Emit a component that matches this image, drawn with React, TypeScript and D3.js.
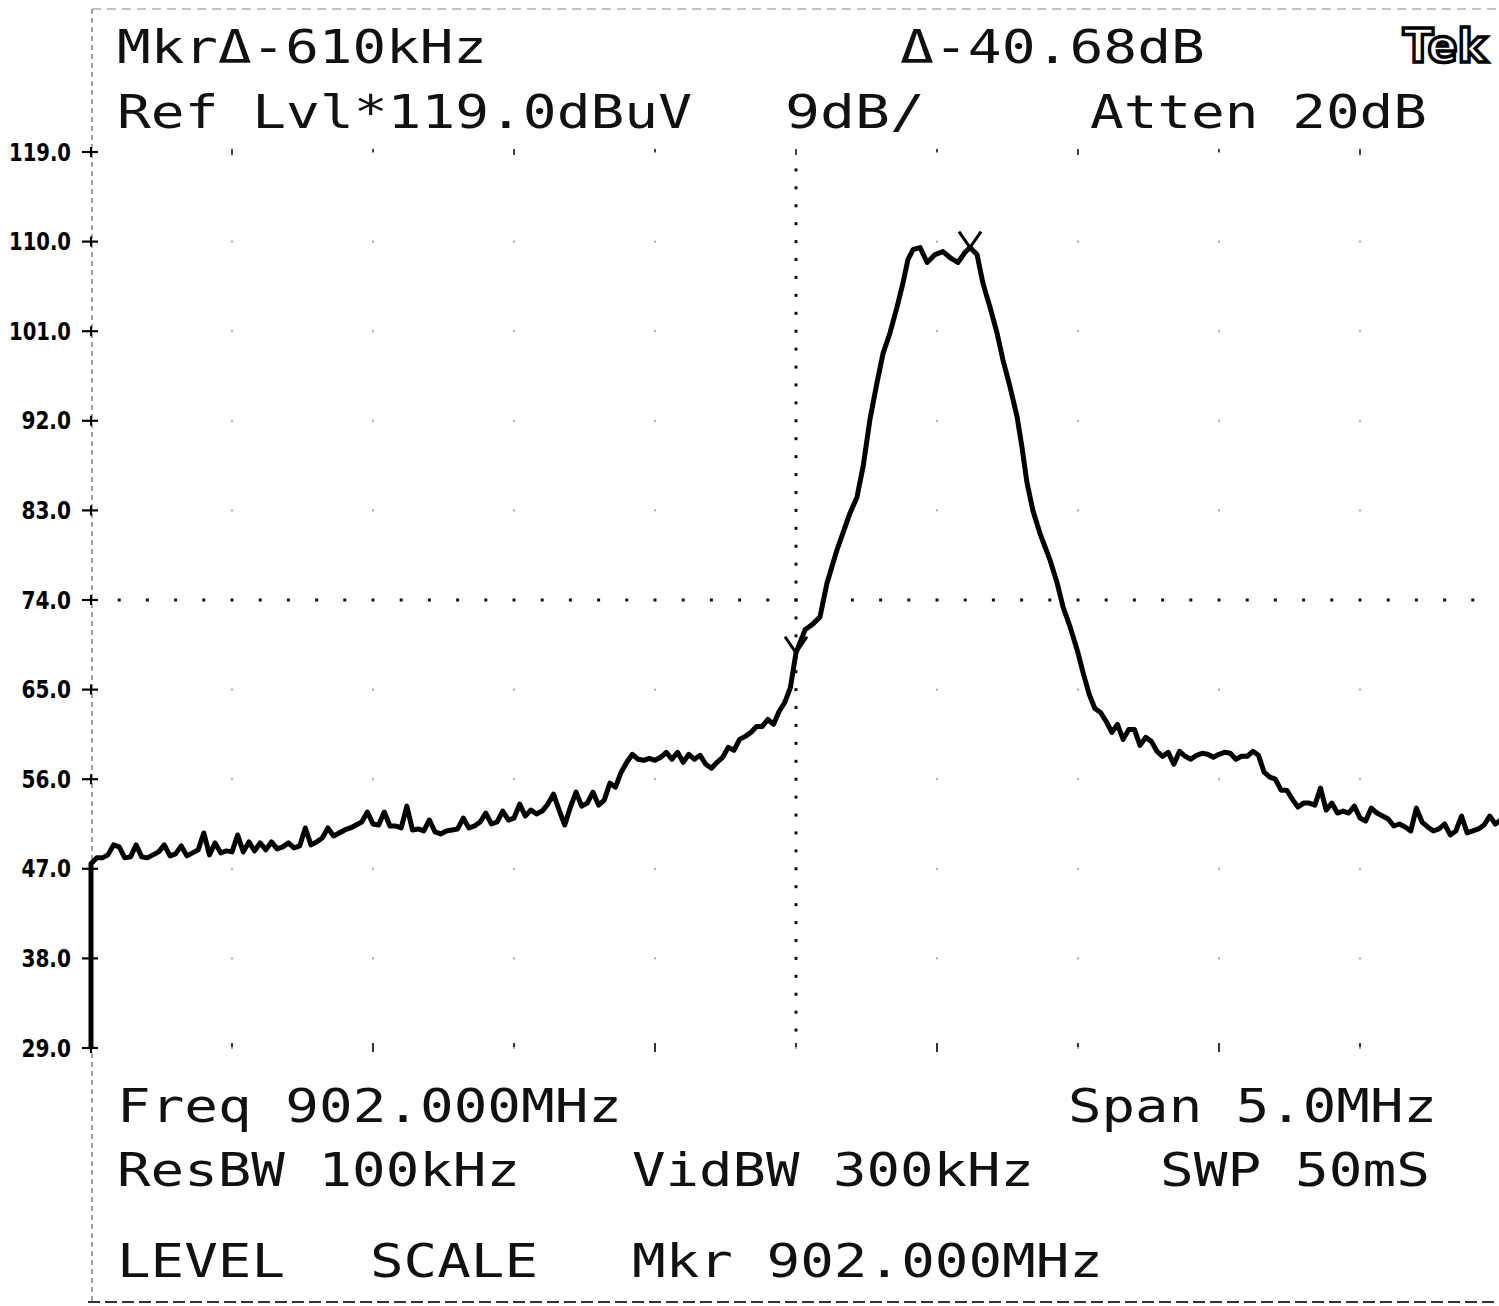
import * as d3 from 'd3'

// trace: frequency (MHz) and level (dBuV)
const traceFreqMHz = [
  899.5, 899.5, 899.52, 899.54, 899.56, 899.58, 899.6, 899.62, 899.64, 899.66, 899.68, 899.7,
  899.72, 899.74, 899.76, 899.78, 899.8, 899.82, 899.84, 899.86, 899.88, 899.9, 899.92, 899.94,
  899.96, 899.98, 900.0, 900.02, 900.04, 900.06, 900.08, 900.1, 900.12, 900.14, 900.16, 900.18,
  900.2, 900.22, 900.24, 900.26, 900.28, 900.3, 900.32, 900.34, 900.36, 900.38, 900.4, 900.42,
  900.44, 900.46, 900.48, 900.5, 900.52, 900.54, 900.56, 900.58, 900.6, 900.62, 900.64, 900.66,
  900.68, 900.7, 900.72, 900.74, 900.76, 900.78, 900.8, 900.82, 900.84, 900.86, 900.88, 900.9,
  900.92, 900.94, 900.96, 900.98, 901.0, 901.02, 901.04, 901.06, 901.08, 901.1, 901.12, 901.14,
  901.16, 901.18, 901.2, 901.22, 901.24, 901.26, 901.28, 901.3, 901.32, 901.34, 901.36, 901.38,
  901.4, 901.42, 901.44, 901.46, 901.48, 901.5, 901.52, 901.54, 901.56, 901.58, 901.6, 901.62,
  901.64, 901.66, 901.68, 901.7, 901.72, 901.74, 901.76, 901.78, 901.8, 901.82, 901.84, 901.86,
  901.88, 901.9, 901.92, 901.94, 901.96, 901.98, 902.0, 902.032, 902.06, 902.085, 902.11, 902.145,
  902.191, 902.216, 902.238, 902.262, 902.287, 902.309, 902.333, 902.358, 902.379, 902.397, 902.415, 902.44,
  902.465, 902.493, 902.521, 902.546, 902.574, 902.599, 902.617, 902.642, 902.663, 902.688, 902.713, 902.734,
  902.759, 902.784, 902.801, 902.819, 902.84, 902.865, 902.901, 902.926, 902.947, 902.972, 903.0, 903.018,
  903.04, 903.06, 903.08, 903.1, 903.12, 903.14, 903.16, 903.18, 903.2, 903.22, 903.24, 903.26,
  903.28, 903.3, 903.32, 903.34, 903.36, 903.38, 903.4, 903.42, 903.44, 903.46, 903.48, 903.5,
  903.52, 903.54, 903.56, 903.58, 903.6, 903.62, 903.64, 903.66, 903.68, 903.7, 903.72, 903.74,
  903.76, 903.78, 903.8, 903.82, 903.84, 903.86, 903.88, 903.9, 903.92, 903.94, 903.96, 903.98,
  904.0, 904.02, 904.04, 904.06, 904.08, 904.1, 904.12, 904.14, 904.16, 904.18, 904.2, 904.22,
  904.24, 904.26, 904.28, 904.3, 904.32, 904.34, 904.36, 904.38, 904.4, 904.42, 904.44, 904.46,
  904.48, 904.5,
]
const traceLevelDb = [
  29.0, 47.5, 48.1, 48.1, 48.4, 49.4, 49.2, 48.1, 48.2, 49.4, 48.2, 48.1,
  48.4, 48.7, 49.4, 48.3, 48.5, 49.3, 48.3, 48.6, 48.9, 50.6, 48.4, 49.6,
  48.6, 48.8, 48.7, 50.4, 48.7, 49.7, 48.8, 49.6, 48.9, 49.7, 49.0, 49.2,
  49.6, 49.1, 49.3, 51.1, 49.4, 49.7, 50.1, 51.1, 50.3, 50.6, 50.9, 51.1,
  51.4, 51.7, 52.7, 51.5, 51.4, 52.7, 51.3, 51.3, 51.1, 53.3, 50.9, 51.0,
  50.8, 51.9, 50.7, 50.5, 50.8, 50.9, 51.0, 52.1, 51.1, 51.3, 51.7, 52.6,
  51.5, 51.7, 52.8, 51.9, 52.1, 53.5, 52.3, 52.9, 52.5, 52.8, 53.5, 54.5,
  52.9, 51.4, 53.2, 54.7, 53.3, 53.6, 54.7, 53.4, 53.9, 55.6, 55.2, 56.7,
  57.7, 58.5, 58.0, 57.9, 58.1, 57.9, 58.2, 58.7, 58.0, 58.7, 57.7, 58.5,
  58.0, 58.4, 57.5, 57.1, 57.7, 58.2, 59.2, 58.9, 60.0, 60.3, 60.7, 61.3,
  61.3, 62.0, 61.5, 62.8, 63.7, 65.2, 68.7, 71.0, 71.6, 72.3, 75.7, 79.0,
  82.7, 84.3, 87.4, 92.1, 95.8, 98.8, 100.8, 103.4, 105.8, 108.2, 109.2, 109.4,
  107.9, 108.7, 109.0, 108.4, 107.9, 108.9, 109.4, 108.7, 105.8, 103.4, 100.8, 98.1,
  95.4, 92.4, 89.4, 85.8, 83.0, 80.7, 78.0, 75.7, 73.3, 71.3, 68.7, 66.7,
  64.5, 63.1, 62.7, 61.8, 60.7, 61.5, 60.0, 61.0, 61.0, 59.4, 60.2, 59.8,
  58.8, 58.3, 58.7, 57.5, 58.8, 58.3, 58.0, 58.4, 58.6, 58.5, 58.2, 58.5,
  58.7, 58.6, 58.0, 58.3, 58.3, 58.8, 58.4, 56.7, 56.2, 56.0, 54.9, 54.9,
  54.0, 53.2, 53.6, 53.6, 53.4, 55.1, 52.9, 53.6, 52.6, 52.8, 52.6, 53.3,
  52.1, 51.8, 53.1, 52.6, 52.3, 52.0, 51.3, 51.5, 51.2, 50.8, 53.1, 51.7,
  51.2, 50.8, 51.0, 51.5, 50.4, 50.8, 52.3, 50.6, 50.8, 51.0, 51.4, 52.3,
  51.5, 51.9,
]

const levelTicks = [119, 110, 101, 92, 83, 74, 65, 56, 47, 38, 29]
const markerFreqMHz = [902.617, 902.0]
const markerLevelDb = [109.4, 68.7]

const centerFreqMHz = 902.0
const spanMHz = 5.0
const refLevelDb = 119.0
const dbPerDiv = 9
const centerLevelDb = 74.0

export default function App() {
  const W = 1499
  const H = 1306

  const x = d3.scaleLinear()
    .domain([centerFreqMHz - spanMHz / 2, centerFreqMHz + spanMHz / 2])
    .range([91, 1501])
  const y = d3.scaleLinear()
    .domain([refLevelDb - 10 * dbPerDiv, refLevelDb])
    .range([1048, 152])

  const pts = traceFreqMHz.map((f, i) => [f, traceLevelDb[i]] as [number, number])
  const line = d3.line<[number, number]>().x(d => x(d[0])).y(d => y(d[1]))

  const divFreqs = d3.range(0, 11).map(i => x.domain()[0] + i * spanMHz / 10)
  const hDots = d3.range(0, 51).map(i => x.domain()[0] + i * spanMHz / 50)
  const vDots = d3.range(0, 51).map(i => y.domain()[0] + i * dbPerDiv / 5)

  const mono = "'DejaVu Sans Mono', 'Liberation Mono', monospace"
  const txt = (s: string, tx: number, ty: number, len: number) => (
    <text x={tx} y={ty} textLength={len} lengthAdjust="spacingAndGlyphs"
      fontFamily={mono} fontSize={46} fill="#111">{s}</text>
  )

  return (
    <svg width={W} height={H} style={{ position: 'absolute', left: 0, top: 0, display: 'block', background: '#fff' }}>
      {/* borders */}
      <line x1={92} y1={9} x2={W} y2={9} stroke="#888" strokeWidth={1.2} strokeDasharray="9 6" />
      <line x1={92} y1={9} x2={92} y2={1302} stroke="#666" strokeWidth={1.2} strokeDasharray="5 4" />
      <line x1={88} y1={1302} x2={W} y2={1302} stroke="#333" strokeWidth={2} strokeDasharray="12 5" />

      {/* division dots and edge ticks */}
      {divFreqs.slice(1, -1).map((f, i) => (
        <g key={'d' + f}>
          {levelTicks.map(v => (
            <rect key={v} x={x(f) - 1} y={y(v) - 1} width={2} height={2} fill="#aaa" />
          ))}
          <rect x={x(f) - 1} y={y(refLevelDb) - 3} width={2} height={i % 2 === 0 ? 6 : 3} fill="#444" />
          <rect x={x(f) - 1} y={y(refLevelDb - 10 * dbPerDiv) - 5} width={2} height={i % 2 === 1 ? 9 : 4} fill="#333" />
        </g>
      ))}

      {/* center graticule lines */}
      {hDots.slice(1).map(f => (
        <rect key={'h' + f} x={x(f) - 1.5} y={y(centerLevelDb) - 1.5} width={3} height={3} fill="#111" />
      ))}
      {vDots.slice(1, -1).map(v => (
        <rect key={'v' + v} x={x(centerFreqMHz) - 1.5} y={y(v) - 1.5} width={3} height={3} fill="#111" />
      ))}

      {/* level axis */}
      {levelTicks.map(v => {
        const s = v.toFixed(1)
        return (
          <g key={'t' + v}>
            <line x1={82} x2={98} y1={y(v)} y2={y(v)} stroke="#000" strokeWidth={2.2} />
            <line x1={91} x2={91} y1={y(v) - 5} y2={y(v) + 5} stroke="#000" strokeWidth={2} />
            <text x={71} y={y(v) + 8.5} textAnchor="end" textLength={s.length * 12.4} lengthAdjust="spacingAndGlyphs"
              fontFamily="'DejaVu Sans', sans-serif" fontWeight="bold" fontSize={24} fill="#000">{s}</text>
          </g>
        )
      })}

      {/* trace */}
      <path d={line(pts) || ''} fill="none" stroke="#000" strokeWidth={5} strokeLinejoin="round" />

      {/* markers */}
      {markerFreqMHz.map((f, i) => {
        const mx = x(f)
        const my = y(markerLevelDb[i])
        return (
          <path key={'m' + i} d={`M${mx - 11},${my - 16}L${mx},${my}L${mx + 11},${my - 16}`}
            fill="none" stroke="#000" strokeWidth={3} />
        )
      })}

      {/* readouts */}
      {txt('MkrΔ-610kHz', 117, 63, 370)}
      {txt('Δ-40.68dB', 900, 63, 305)}
      {txt('Ref Lvl*119.0dBuV', 117, 128, 575)}
      {txt('9dB/', 785, 128, 140)}
      {txt('Atten 20dB', 1090, 128, 337)}
      {txt('Freq 902.000MHz', 117, 1122, 505)}
      {txt('Span 5.0MHz', 1068, 1122, 369)}
      {txt('ResBW 100kHz', 117, 1186, 403)}
      {txt('VidBW 300kHz', 632, 1186, 402)}
      {txt('SWP 50mS', 1160, 1186, 270)}
      {txt('LEVEL', 117, 1277, 168)}
      {txt('SCALE', 370, 1277, 168)}
      {txt('Mkr 902.000MHz', 632, 1277, 471)}

      {/* logo */}
      <text x={1403} y={62} textLength={84} lengthAdjust="spacingAndGlyphs"
        fontFamily="'DejaVu Sans', sans-serif" fontWeight="bold" fontSize={46}
        fill="#fff" stroke="#000" strokeWidth={3.5}>Tek</text>
    </svg>
  )
}
